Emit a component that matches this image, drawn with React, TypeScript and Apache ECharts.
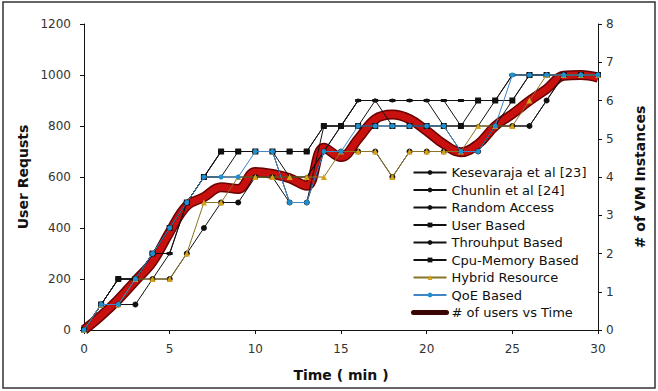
import React, { useEffect, useRef } from "react";
import * as echarts from "echarts";

const times = [0,1,2,3,4,5,6,7,8,9,10,11,12,13,14,15,16,17,18,19,20,21,22,23,24,25,26,27,28,29,30];
const users = [0,56,120,193,267,384,487,521,560,553,620,612,595,566,715,678,749,827,845,827,781,729,697,729,800,847,899,945,997,1000,990];
const kesevaraja = [0,100,200,200,300,400,500,600,700,700,700,700,500,500,800,800,800,900,900,900,900,800,700,700,800,900,1000,1000,1000,1000,1000];
const chunlin = [0,100,200,200,300,400,500,600,600,700,700,700,600,600,700,800,900,900,900,900,900,900,800,800,900,1000,1000,1000,1000,1000,1000];
const randomAccess = [0,100,100,200,200,300,500,600,600,600,600,600,600,600,700,800,900,900,800,800,800,800,800,800,800,800,800,900,1000,1000,1000];
const userBased = [0,100,200,200,300,300,500,600,700,700,700,700,700,700,800,800,900,900,900,900,900,900,900,900,900,1000,1000,1000,1000,1000,1000];
const throughput = [0,100,100,100,200,200,300,400,500,500,600,600,500,500,700,700,700,700,600,700,700,700,700,700,800,800,800,900,1000,1000,1000];
const cpuMemory = [0,100,200,200,300,400,500,600,700,700,700,700,700,700,800,800,800,800,800,800,800,800,800,900,900,900,1000,1000,1000,1000,1000];
const hybrid = [0,100,100,200,200,200,300,500,500,600,600,600,600,600,600,700,700,700,600,700,700,700,700,800,800,800,900,1000,1000,1000,1000];
const qoe = [0,100,100,200,300,400,500,600,600,600,700,700,500,500,700,700,800,800,800,800,800,800,700,700,800,1000,1000,1000,1000,1000,1000];

const leftTicks = { min: 0, max: 1200, interval: 200 };
const rightTicks = { min: 0, max: 8, interval: 1 };
const xTicks = { min: 0, max: 30, interval: 5 };

const names = [
  "Kesevaraja et al [23]",
  "Chunlin et al [24]",
  "Random Access",
  "User Based",
  "Throuhput Based",
  "Cpu-Memory Based",
  "Hybrid Resource",
  "QoE Based",
  "# of users vs Time",
];

const pairs = (vals: number[]) => times.map((t, i) => [t, vals[i]]);

export default function App() {
  const ref = useRef<HTMLDivElement>(null);
  useEffect(() => {
    document.body.style.margin = "0";
    const chart = echarts.init(ref.current!, null, { renderer: "svg" });
    const font = "DejaVu Sans";
    const blackLine = (name: string, vals: number[], symbol: string, size: any) => ({
      name,
      type: "line",
      data: pairs(vals),
      symbol,
      symbolSize: size,
      showSymbol: symbol !== "none",
      lineStyle: { color: "#111", width: 1 },
      itemStyle: { color: "#111" },
      z: 3,
    });
    const plain = (v: number) => String(v);
    chart.setOption({
      animation: false,
      backgroundColor: "#fff",
      textStyle: { fontFamily: font },
      grid: { left: 84, right: 60, top: 24, bottom: 61 },
      graphic: [
        {
          type: "rect",
          shape: { x: 3, y: 2, width: 652, height: 386 },
          style: { fill: "none", stroke: "#333", lineWidth: 1.5 },
          silent: true,
        },
      ],
      legend: {
        orient: "vertical",
        left: 406,
        top: 161,
        itemWidth: 33,
        itemHeight: 6,
        itemGap: 4.5,
        textStyle: { fontFamily: font, fontSize: 13, color: "#111", lineHeight: 13 },
        data: names.map((n) =>
          n === "# of users vs Time"
            ? { name: n, lineStyle: { color: "#3a0505", width: 5, cap: "round" } }
            : n
        ),
      },
      xAxis: {
        type: "value",
        ...xTicks,
        name: "Time ( min )",
        nameLocation: "middle",
        nameGap: 38,
        nameTextStyle: { fontFamily: font, fontSize: 14, fontWeight: "bold", color: "#111" },
        axisLine: { lineStyle: { color: "#111", width: 1 } },
        axisTick: { show: true, length: 4, lineStyle: { color: "#111" } },
        axisLabel: { fontFamily: font, fontSize: 12, color: "#333", margin: 13, formatter: plain },
        splitLine: { show: false },
      },
      yAxis: [
        {
          type: "value",
          ...leftTicks,
          name: "User Requsts",
          nameLocation: "middle",
          nameRotate: 90,
          nameGap: 31,
          nameTextStyle: { fontFamily: font, fontSize: 14, fontWeight: "bold", color: "#111" },
          axisLine: { show: true, lineStyle: { color: "#111", width: 1 } },
          axisTick: { show: true, length: 4, lineStyle: { color: "#111" } },
          axisLabel: { fontFamily: font, fontSize: 12, color: "#333", margin: 13, formatter: plain },
          splitLine: { show: false },
        },
        {
          type: "value",
          ...rightTicks,
          position: "right",
          name: "# of VM Instances",
          nameLocation: "middle",
          nameRotate: 90,
          nameGap: 35,
          nameTextStyle: { fontFamily: font, fontSize: 14, fontWeight: "bold", color: "#111" },
          axisLine: { show: true, lineStyle: { color: "#111", width: 1 } },
          axisTick: { show: true, length: 4, lineStyle: { color: "#111" } },
          axisLabel: { fontFamily: font, fontSize: 12, color: "#333", margin: 8, formatter: plain },
          splitLine: { show: false },
        },
      ],
      series: [
        {
          name: "users-edge",
          type: "line",
          data: pairs(users),
          smooth: 0.4,
          symbol: "none",
          lineStyle: { color: "#6a0000", width: 10 },
          z: 1,
          silent: true,
        },
        {
          name: "# of users vs Time",
          type: "line",
          data: pairs(users),
          smooth: 0.4,
          symbol: "none",
          lineStyle: { color: "#c8100e", width: 7 },
          itemStyle: { color: "#3a0505" },
          z: 2,
        },
        blackLine("Kesevaraja et al [23]", kesevaraja, "circle", 4),
        blackLine("Chunlin et al [24]", chunlin, "none", 0),
        blackLine("Random Access", randomAccess, "circle", 4),
        blackLine("User Based", userBased, "rect", [6, 3]),
        blackLine("Throuhput Based", throughput, "circle", 6),
        blackLine("Cpu-Memory Based", cpuMemory, "rect", 6),
        {
          name: "Hybrid Resource",
          type: "line",
          data: pairs(hybrid),
          symbol: "triangle",
          symbolSize: 6,
          lineStyle: { color: "#8a7424", width: 1 },
          itemStyle: { color: "#d4a21a" },
          z: 4,
        },
        {
          name: "QoE Based",
          type: "line",
          data: pairs(qoe),
          symbol: "circle",
          symbolSize: 5,
          lineStyle: { color: "#3f86c4", width: 1 },
          itemStyle: { color: "#1f8fd0" },
          z: 4,
        },
      ],
    });
    return () => chart.dispose();
  }, []);
  return <div ref={ref} style={{ width: 658, height: 391 }} />;
}
